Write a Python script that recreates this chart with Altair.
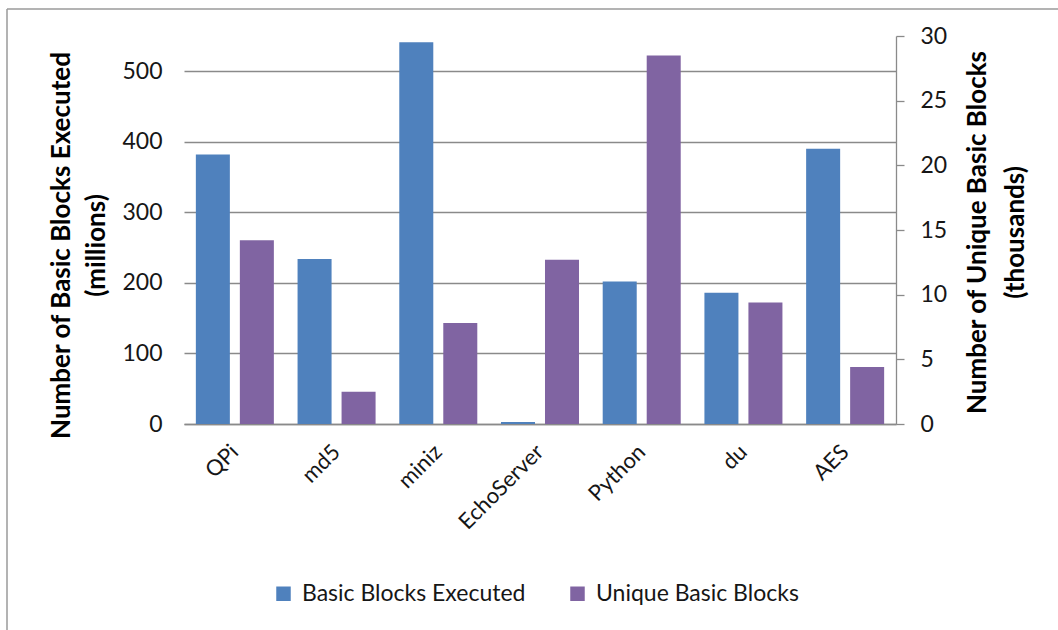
import altair as alt
import pandas as pd

categories = ["QPi", "md5", "miniz", "EchoServer", "Python", "du", "AES"]
executed = [382, 234, 541, 3, 202, 186, 390]          # millions
unique = [14.2, 2.5, 7.8, 12.7, 28.5, 9.4, 4.4]        # thousands
series_names = ["Basic Blocks Executed", "Unique Basic Blocks"]
series_colors = ["#4F81BD", "#8064A2"]
left_ticks = [0, 100, 200, 300, 400, 500]
right_ticks = [0, 5, 10, 15, 20, 25, 30]

rows = []
for c, e, u in zip(categories, executed, unique):
    rows.append({"category": c, "series": series_names[0], "value": e})
    rows.append({"category": c, "series": series_names[1], "value": u})
df = pd.DataFrame(rows)

FONT = "Lato"
GRID = "#8a8a8a"
TXT = "#161616"

x_enc = alt.X(
    "category:N", sort=categories,
    scale=alt.Scale(paddingInner=0.233, paddingOuter=0.1165),
    axis=alt.Axis(title=None, labelAngle=-45, labelAlign="right", labelBaseline="middle",
                  labelFontSize=22, labelPadding=24, ticks=False, tickSize=0,
                  domainColor=GRID, domainWidth=1.3, labelColor=TXT, labelFont=FONT),
)
xoff = alt.XOffset("series:N", sort=series_names,
                   scale=alt.Scale(domain=series_names, paddingInner=0.227, paddingOuter=0))
color = alt.Color(
    "series:N",
    scale=alt.Scale(domain=series_names, range=series_colors),
    legend=alt.Legend(title=None, orient="none", legendX=88, legendY=546,
                      direction="horizontal", symbolType="square", symbolSize=210,
                      symbolStrokeWidth=0, labelFontSize=23, labelFont=FONT,
                      labelColor=TXT, columnPadding=40, labelOffset=7, labelLimit=0),
)

base = alt.Chart(df)

left = base.transform_filter(alt.datum.series == series_names[0]).mark_bar().encode(
    x=x_enc, xOffset=xoff, color=color,
    y=alt.Y("value:Q", scale=alt.Scale(domain=[0, 550], nice=False),
            axis=alt.Axis(orient="left", values=left_ticks, grid=True, gridColor=GRID,
                          gridWidth=1.3, domain=False, ticks=False, labelPadding=22,
                          labelFontSize=23, labelFont=FONT, labelColor=TXT,
                          title=["Number of Basic Blocks Executed", "(millions)"],
                          titleX=-123, titleY=209, titleAngle=-90, titleAlign="center",
                          titleBaseline="middle", titleFontSize=26, titleFont=FONT,
                          titleFontWeight="bold", titleLineHeight=35, titleColor="#000")),
)

right = base.transform_filter(alt.datum.series == series_names[1]).mark_bar().encode(
    x=x_enc, xOffset=xoff, color=color,
    y=alt.Y("value:Q", scale=alt.Scale(domain=[0, 30], nice=False),
            axis=alt.Axis(orient="right", values=right_ticks, grid=False,
                          domainColor=GRID, domainWidth=1.3, tickColor=GRID, tickWidth=1.3,
                          tickSize=8, labelPadding=16, labelFontSize=23, labelFont=FONT,
                          labelColor=TXT,
                          title=["Number of Unique Basic Blocks", "(thousands)"],
                          titleX=81, titleY=196, titleAngle=-90, titleAlign="center",
                          titleBaseline="middle", titleFontSize=26, titleFont=FONT,
                          titleFontWeight="bold", titleLineHeight=38, titleColor="#000")),
)

frame_df = pd.DataFrame({"k": [0]})
top_line = alt.Chart(frame_df).mark_rule(color="#9a9a9a", strokeWidth=1.5).encode(
    x=alt.value(-177), x2=alt.value(900), y=alt.value(-27))
left_line = alt.Chart(frame_df).mark_rule(color="#9a9a9a", strokeWidth=1.5).encode(
    x=alt.value(-177), y=alt.value(-27), y2=alt.value(620))

chart = alt.layer(left, right, top_line, left_line).resolve_scale(y="independent").properties(
    width=712, height=388,
    autosize=alt.AutoSizeParams(type="none"),
    padding={"left": 184, "top": 36, "right": 162, "bottom": 206},
    background="white",
).configure_view(stroke=None)

chart.save("out.html", embed_options={"renderer": "svg", "actions": False})
